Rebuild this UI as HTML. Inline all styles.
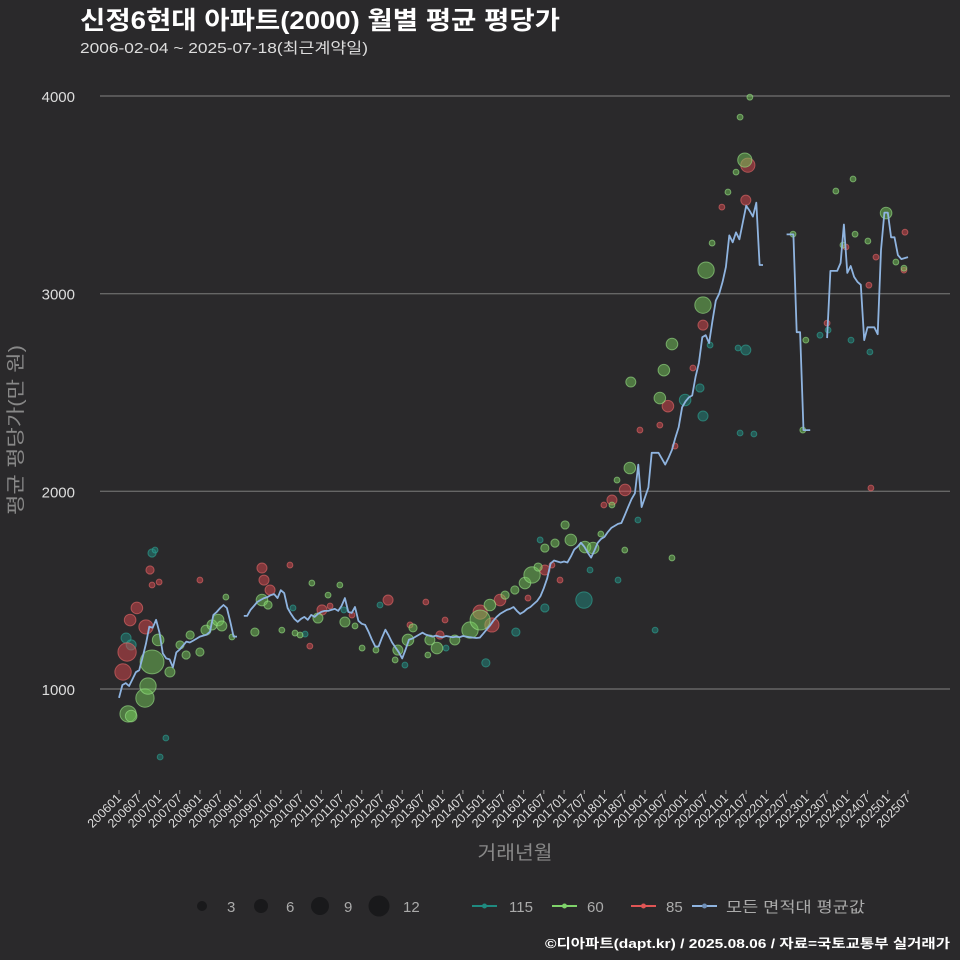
<!DOCTYPE html>
<html><head><meta charset="utf-8">
<style>
html,body{margin:0;padding:0;background:#2a292b;}
svg{display:block;font-family:"Liberation Sans","Noto Sans CJK KR",sans-serif;}
</style></head>
<body>
<svg id="chart" width="960" height="960" viewBox="0 0 960 960" xmlns="http://www.w3.org/2000/svg">
<rect width="960" height="960" fill="#2a292b"/>
<text x="80" y="29" fill="#ffffff" font-size="25" font-weight="bold" textLength="480" lengthAdjust="spacingAndGlyphs">신정6현대 아파트(2000) 월별 평균 평당가</text>
<text x="80" y="53" fill="#dddddd" font-size="15" textLength="288" lengthAdjust="spacingAndGlyphs">2006-02-04 ~ 2025-07-18(최근계약일)</text>
<g id="grid"></g>
<g id="yticks"></g>
<g id="xticks"></g>
<g id="points"></g>
<g id="avgline"></g>
<text x="0" y="0" transform="translate(22,430) rotate(-90)" text-anchor="middle" fill="#888888" font-size="19" textLength="170" lengthAdjust="spacingAndGlyphs">평균 평당가(만 원)</text>
<text x="515" y="859" text-anchor="middle" fill="#888888" font-size="19" textLength="75" lengthAdjust="spacingAndGlyphs">거래년월</text>
<g>
<circle cx="202" cy="906" r="5" fill="#19191b"/>
<text x="227" y="912" fill="#aaaaaa" font-size="15">3</text>
<circle cx="261" cy="906" r="7" fill="#19191b"/>
<text x="286" y="912" fill="#aaaaaa" font-size="15">6</text>
<circle cx="320" cy="906" r="9" fill="#19191b"/>
<text x="344" y="912" fill="#aaaaaa" font-size="15">9</text>
<circle cx="379" cy="906" r="10.5" fill="#19191b"/>
<text x="403" y="912" fill="#aaaaaa" font-size="15">12</text>
</g>
<g>
<g><line x1="472" y1="906" x2="497" y2="906" stroke="#1f8a80" stroke-width="2"/><circle cx="484.5" cy="906" r="2.5" fill="#1f8a80"/><text x="509" y="912" fill="#aaaaaa" font-size="15">115</text></g>
<g><line x1="552" y1="906" x2="577" y2="906" stroke="#7fd36a" stroke-width="2"/><circle cx="564.5" cy="906" r="2.5" fill="#7fd36a"/><text x="587" y="912" fill="#aaaaaa" font-size="15">60</text></g>
<g><line x1="631" y1="906" x2="656" y2="906" stroke="#e05555" stroke-width="2"/><circle cx="643.5" cy="906" r="2.5" fill="#e05555"/><text x="666" y="912" fill="#aaaaaa" font-size="15">85</text></g>
<g><line x1="692" y1="906" x2="717" y2="906" stroke="#8fb4e0" stroke-width="2"/><circle cx="704.5" cy="906" r="2.5" fill="#6f8fb8"/><text x="726" y="912" fill="#aaaaaa" font-size="15" textLength="139" lengthAdjust="spacingAndGlyphs">모든 면적대 평균값</text></g>
</g>
<text x="950" y="948" text-anchor="end" fill="#ffffff" font-size="13" font-weight="bold" textLength="405" lengthAdjust="spacingAndGlyphs">©디아파트(dapt.kr) / 2025.08.06 / 자료=국토교통부 실거래가</text>
</svg>
<script>
const yTicks=[1000,2000,3000,4000];
const startYear=2006;
const monthCount=235;
// average line, monthly from 2006-01 (null = gap)
const avgValues=[955,1020,1030,1015,1050,1085,1095,1160,1230,1315,1310,1350,1285,1180,1155,1150,1110,1185,1200,1220,1240,1235,1245,1255,1265,1270,1275,1290,1375,1390,1410,1425,1410,1340,1265,1265,null,
1370,1370,1400,1420,1440,1450,1460,1465,1475,1480,1460,1500,1485,1410,1380,1355,1340,1355,1365,1350,1375,1365,1380,1390,1395,1395,1400,1405,1395,1420,1460,1390,1385,1415,1345,1330,1325,1290,1250,1215,1215,1260,1300,1270,1235,1210,1185,1155,1200,1250,1255,1265,1275,1285,1275,1270,1265,1270,1265,1262,1268,1265,1262,1265,1262,1268,1265,1262,1260,1258,1260,1280,1300,1320,1345,1365,1380,1390,1400,1405,1415,1395,1380,1390,1405,1415,1430,1445,1470,1510,1560,1635,1650,1645,1640,1645,1640,1670,1705,1720,1740,1720,1690,1665,1700,1740,1760,1770,1795,1815,1825,1835,1840,1880,1920,1960,1990,2135,1920,1970,2020,2195,2195,2195,2165,2135,2170,2210,2270,2325,2425,2455,2475,2485,2580,2650,2780,2790,2750,2860,2965,3000,3060,3135,3295,3260,3310,3275,3360,3445,3420,3390,3460,3145,3145,
null,null,null,null,null,null,3300,3300,3300,2805,2805,2310,2310,2310,null,null,null,null,
2775,3115,3115,3115,3155,3350,3105,3140,3085,3060,3045,2765,2830,2830,2830,2795,3220,3410,3410,3285,3285,3195,3175,3180,3185];
// scatter: month index, value, count
const g60Month=[2.7,3.6,7.7,8.6,9.8,11.6,15.1,18.1,19.9,21.1,24,25.8,27.6,29.4,30.5,31.7,33.5,40.3,42.4,44.2,48.3,52.2,53.7,57.2,59,62,65.5,67,70,72.1,76.2,81.9,82.7,85.7,87.2,91.6,92.2,94.3,99.6,104.1,107.1,110,114.5,117.4,120.4,122.5,124.3,126.3,129.3,132.3,134,138.2,140.6,142.9,146.2,147.7,151.5,151.8,160.4,161.6,164,173.2,174.1,175.9,180.6,183,184.2,185.6,187.1,199.9,202.8,203.7,212.6,214.7,217.7,218.3,222.1,227.5,230.4,232.8,164,150];
const g60Value=[874,863,954,1015,1137,1248,1086,1223,1172,1273,1187,1298,1324,1349,1319,1465,1263,1288,1450,1425,1298,1283,1273,1536,1359,1475,1526,1339,1319,1207,1197,1147,1197,1248,1309,1172,1248,1207,1248,1298,1349,1425,1475,1501,1536,1577,1617,1713,1738,1830,1754,1718,1713,1784,1931,2057,2118,2553,2472,2613,2745,2942,3119,3256,3514,3615,3893,3676,3994,3301,2310,2765,3519,3246,3580,3301,3266,3408,3160,3129,1663,1703];
const g60Count=[8,4,10,8,17,4,3,2,2,2,2,3,3,4,3,1,1,2,4,2,1,1,1,1,3,1,1,3,1,1,1,1,3,4,2,1,3,4,3,8,12,4,2,2,4,8,2,2,2,2,4,4,4,1,1,1,4,3,4,4,4,8,8,1,1,1,1,6,1,1,1,1,1,1,1,1,1,4,1,1,1,1];
const g85Month=[1.2,2.4,3.3,5.3,8,9.2,9.8,11.9,24,42.4,43,44.8,50.7,56.6,60.2,62.6,69.1,79.8,86.3,91,96.7,95.2,107.1,110.6,113,121.3,126.3,128.4,130.8,143.8,146.2,150.1,154.5,160.4,162.8,164.9,170.2,173.2,178.8,185.9,186.5,210,215.6,222.4,223,224.5,233.1,232.8];
const g85Value=[1086,1187,1349,1410,1314,1602,1526,1541,1551,1612,1551,1501,1627,1217,1400,1420,1374,1450,1324,1440,1349,1273,1389,1324,1450,1460,1602,1627,1551,1931,1956,2007,2310,2335,2431,2229,2624,2841,3438,3473,3650,2851,3236,3043,2017,3185,3311,3119];
const g85Count=[8,10,4,4,6,2,1,1,1,3,3,3,1,1,3,1,1,3,1,1,1,2,6,6,4,1,3,1,1,1,3,4,1,1,4,1,1,3,1,3,6,1,1,1,1,1,1,1];
const g115Month=[2.1,3.6,9.8,10.7,12.2,13.9,51.6,55.2,66.7,77.4,84.8,97,108.8,117.7,124.9,126.3,137.9,139.7,148,153.9,159,167.9,172.3,173.2,175.3,183.6,184.2,185.9,188.3,207.9,210.3,217.1,222.7];
const g115Value=[1258,1223,1688,1703,656,752,1410,1278,1400,1425,1121,1207,1132,1288,1754,1410,1450,1602,1551,1855,1298,2462,2523,2381,2740,2725,2295,2715,2290,2790,2816,2765,2705];
const g115Count=[3,3,2,1,1,1,1,1,1,1,1,1,2,2,1,2,8,1,1,1,1,4,2,3,1,1,1,3,1,1,1,1,1];

const NS='http://www.w3.org/2000/svg';
const X0=119,X1=908,Y1000=689,Y4000=96;
function xScale(m){return X0+m*(X1-X0)/(monthCount-1);}
function yScale(v){return Y1000-(v-1000)*(Y1000-Y4000)/3000;}
function mk(tag,attrs,parent){const e=document.createElementNS(NS,tag);for(const k in attrs)e.setAttribute(k,attrs[k]);parent.appendChild(e);return e;}

const grid=document.getElementById('grid'),yt=document.getElementById('yticks');
yTicks.forEach(v=>{
  const l=mk('line',{x1:100,x2:950,y1:yScale(v),y2:yScale(v),stroke:'#666666','stroke-width':1.4},grid);
  
  
  const t=mk('text',{x:75,y:yScale(v)+6,'text-anchor':'end',fill:'#dddddd','font-size':15},yt);
  t.textContent=v;
  
  
});
const xt=document.getElementById('xticks');
for(let m=0;m<monthCount;m+=6){
  const yr=startYear+Math.floor(m/12),mo=m%12+1;
  const lab=yr+(mo<10?'0':'')+mo;
  const x=xScale(m);
  const tk=mk('line',{x1:x,x2:x,y1:790,y2:794,stroke:'#999999','stroke-width':1},xt);
  
  
  const t=mk('text',{x:0,y:0,transform:'translate('+(x+3)+',799) rotate(-45)','text-anchor':'end',fill:'#dddddd','font-size':12.5},xt);
  t.textContent=lab;
  
  
}
const pts=document.getElementById('points');
function drawSeries(ms,vs,cs,fill,stroke,name){
  ms.forEach((m,i)=>{
    const c=mk('circle',{cx:xScale(m),cy:yScale(vs[i]),r:2.9*Math.sqrt(cs[i]),fill:fill,'fill-opacity':0.5,stroke:stroke,'stroke-opacity':0.6,'stroke-width':1},pts);
    
    
  });
}
drawSeries(g115Month,g115Value,g115Count,'#1f8a80','#2fa898','115');
drawSeries(g85Month,g85Value,g85Count,'#d9484e','#e86a6a','85');
drawSeries(g60Month,g60Value,g60Count,'#74c85a','#9be488','60');

const lg=document.getElementById('avgline');
let d='',pen=false;
avgValues.forEach((v,m)=>{
  if(v===null){pen=false;return;}
  d+=(pen?'L':'M')+xScale(m).toFixed(1)+','+yScale(v).toFixed(1);
  pen=true;
});
const p=mk('path',{d:d,fill:'none',stroke:'#8fb4e0','stroke-width':1.8,'stroke-linejoin':'round'},lg);


</script>
</body></html>
